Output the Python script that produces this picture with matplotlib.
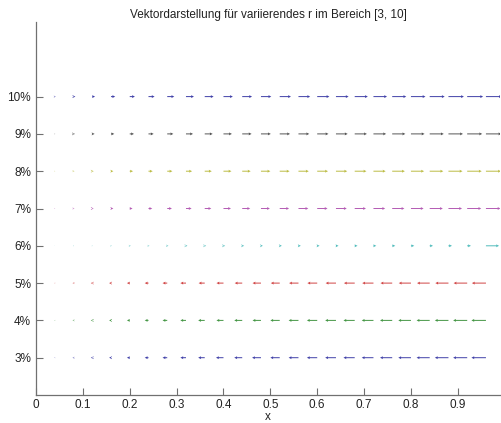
import numpy as np
import matplotlib
matplotlib.use("Agg")
import matplotlib.pyplot as plt

plt.rcParams['font.family'] = ['Liberation Sans', 'DejaVu Sans']

title = "Vektordarstellung für variierendes r im Bereich [3, 10]"
xlabel = "x"

# grid positions along x
x_points = [0.04, 0.08, 0.12, 0.16, 0.20, 0.24, 0.28, 0.32, 0.36, 0.40, 0.44, 0.48,
            0.52, 0.56, 0.60, 0.64, 0.68, 0.72, 0.76, 0.80, 0.84, 0.88, 0.92, 0.96]

# rows (r values, shown as %)
r_values = [3, 4, 5, 6, 7, 8, 9, 10]
y_ticklabels = ["3%", "4%", "5%", "6%", "7%", "8%", "9%", "10%"]
x_ticks = [0, 0.1, 0.2, 0.3, 0.4, 0.5, 0.6, 0.7, 0.8, 0.9]
x_ticklabels = ["0", "0.1", "0.2", "0.3", "0.4", "0.5", "0.6", "0.7", "0.8", "0.9"]

# horizontal vector components (data units of x) per row
u_r3 = [-0.001, -0.002, -0.003, -0.004, -0.006, -0.008, -0.010, -0.012, -0.014, -0.016, -0.017, -0.019,
        -0.020, -0.021, -0.022, -0.023, -0.024, -0.025, -0.026, -0.027, -0.028, -0.029, -0.030, -0.031]
u_r4 = [-0.001, -0.002, -0.003, -0.004, -0.006, -0.008, -0.010, -0.012, -0.014, -0.015, -0.017, -0.018,
        -0.020, -0.021, -0.022, -0.023, -0.024, -0.025, -0.026, -0.027, -0.028, -0.029, -0.030, -0.031]
u_r5 = [-0.001, -0.002, -0.003, -0.004, -0.006, -0.008, -0.010, -0.012, -0.013, -0.015, -0.016, -0.018,
        -0.019, -0.020, -0.021, -0.022, -0.023, -0.024, -0.025, -0.026, -0.027, -0.028, -0.029, -0.030]
u_r6 = [0.0005, 0.001, 0.001, 0.0015, 0.002, 0.002, 0.0025, 0.003, 0.003, 0.0035, 0.004, 0.004,
        0.0045, 0.005, 0.005, 0.0055, 0.006, 0.006, 0.0065, 0.007, 0.007, 0.0075, 0.008, 0.028]
u_r7 = [0.001, 0.002, 0.003, 0.005, 0.006, 0.008, 0.010, 0.012, 0.014, 0.016, 0.017, 0.019,
        0.020, 0.021, 0.022, 0.023, 0.024, 0.025, 0.026, 0.027, 0.028, 0.029, 0.030, 0.031]
u_r8 = [0.001, 0.002, 0.003, 0.005, 0.007, 0.009, 0.011, 0.013, 0.015, 0.017, 0.018, 0.020,
        0.021, 0.022, 0.023, 0.024, 0.025, 0.026, 0.027, 0.028, 0.029, 0.030, 0.031, 0.032]
u_r9 = [0.001, 0.003, 0.005, 0.007, 0.009, 0.011, 0.013, 0.015, 0.017, 0.018, 0.020, 0.021,
        0.022, 0.023, 0.024, 0.025, 0.026, 0.027, 0.028, 0.029, 0.030, 0.031, 0.032, 0.033]
u_r10 = [0.002, 0.004, 0.006, 0.009, 0.011, 0.013, 0.015, 0.017, 0.019, 0.020, 0.021, 0.022,
         0.024, 0.025, 0.026, 0.027, 0.028, 0.029, 0.030, 0.031, 0.032, 0.033, 0.034, 0.034]

rows_u = [u_r3, u_r4, u_r5, u_r6, u_r7, u_r8, u_r9, u_r10]
row_colors = ["#4040a8", "#449644", "#d04444", "#50bcbc", "#b45cb4", "#bcbc44", "#555555", "#4040a8"]

fig = plt.figure(figsize=(5.02, 4.23), dpi=100)
ax = fig.add_axes([36/502, 28/423, 464/502, 373/423])

for r, u, c in zip(r_values, rows_u, row_colors):
    xs = np.array(x_points)
    ys = np.full(len(xs), r, dtype=float)
    uu = np.array(u)
    vv = np.zeros(len(xs))
    ax.quiver(xs, ys, uu, vv, angles='xy', scale_units='xy', scale=1,
              color=c, width=0.0021, headwidth=3.0, headlength=3.0,
              headaxislength=2.7, minlength=0.3, minshaft=0.5, pivot='tail')

ax.set_xlim(0, 0.99)
ax.set_ylim(2, 12)
ax.set_xticks(x_ticks)
ax.set_xticklabels(x_ticklabels)
ax.set_yticks(r_values)
ax.set_yticklabels(y_ticklabels)
ax.set_xlabel(xlabel, fontsize=8.5)
ax.xaxis.set_label_coords(0.5, -0.044)
ax.set_title(title, fontsize=8.5, pad=3)

for s in ['top', 'right']:
    ax.spines[s].set_visible(False)
for s in ['left', 'bottom']:
    ax.spines[s].set_color('#707070')
    ax.spines[s].set_linewidth(0.9)
ax.tick_params(direction='in', length=5, width=0.8, color='#707070', labelsize=8.5,
               labelcolor='#222222', pad=3.5)
ax.tick_params(axis='x', pad=3)
ax.xaxis.label.set_color('#222222')
ax.title.set_color('#222222')

fig.savefig("out.png", dpi=100)
